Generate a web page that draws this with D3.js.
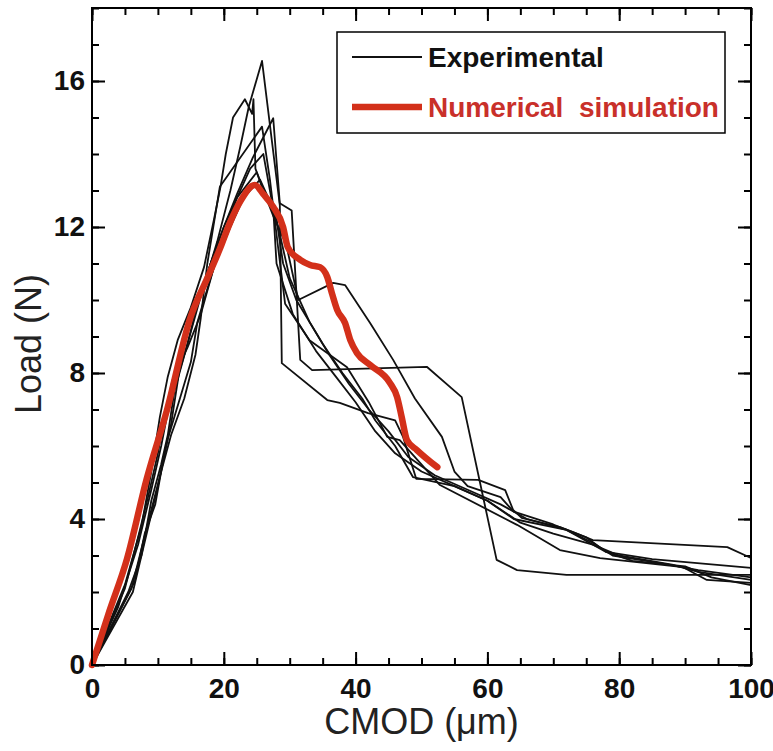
<!DOCTYPE html>
<html>
<head>
<meta charset="utf-8">
<script src="https://cdn.jsdelivr.net/npm/d3@7"></script>
<style>
  body { margin: 0; background: #fff; }
  text { font-family: "Liberation Sans", Arial, Helvetica, sans-serif; }
</style>
</head>
<body>
<div id="chart"></div>
<script>
// experimental curves, [CMOD (um), Load (N)]
var exp1 = [[0,0],[4,1.6],[7,3.3],[9,4.8],[10.5,6.0],[12,7.4],[13.5,8.6],[15,9.5],[17,10.4],[19,11.6],[21,13.0],[22.5,14.2],[23.8,15.3],[25.8,16.55],
  [28.5,12.6],[28.8,8.27],[35.7,7.26],[37.6,7.18],[41.9,6.9],[46,6.7],[47.2,6.25],[49.2,5.1],[58.6,5.07],[62.7,4.79],[63.9,4.25],[65.2,4.03],
  [71,3.78],[73,3.64],[76,3.42],[96.4,3.23],[100,2.93]];
var exp2 = [[0,0],[5,2.2],[7.5,3.8],[9,5.3],[10.3,6.8],[11.5,7.9],[13,8.9],[15,9.8],[17,10.9],[18.5,12.2],[19.5,13.1],[20.3,14.0],[21.4,15.0],
  [23.2,15.5],[24.3,15.1],[24.5,15.5],[24.8,13.6],[25.8,13.1],[27.5,12.3],[29.5,11.5],[31.3,10.0],[36.6,10.47],[38.4,10.41],[42.2,9.37],
  [45.7,8.36],[49,7.3],[53.1,6.25],[55,5.3],[57,4.9],[62,4.6],[64,4.2],[70,3.85],[75,3.5],[78,3.1],[85,2.9],[100,2.66]];
var exp3 = [[0,0],[6.5,2.3],[8,3.6],[9.6,4.4],[11,5.8],[12,6.6],[13.2,8.0],[14.8,9.0],[16.5,10.1],[18,11.0],[20,12.0],[22,12.9],[24.4,13.9],
  [27.5,14.98],[28.5,12.65],[30.3,12.45],[31.6,8.36],[33.4,8.08],[50.8,8.17],[56.1,7.34],[58.9,4.98],[61.4,2.88],[64.5,2.6],[72,2.47],[100,2.47]];
var exp4 = [[0,0],[6,2.1],[8.5,3.9],[10.5,5.3],[12,6.3],[14,7.3],[15.7,8.5],[16.5,9.5],[17.5,11.0],[19.4,13.1],[25.8,14.75],[27,13.3],
  [28.2,11.5],[29.3,9.9],[33,8.9],[38.7,8.16],[42,7.2],[44.8,6.25],[46.7,6.16],[52.8,4.93],[64.5,3.84],[71,3.15],[77.1,2.93],[89.7,2.68],
  [93.3,2.33],[100,2.25]];
var exp5 = [[0,0],[5.5,2.0],[7.5,3.0],[9,4.5],[10.5,5.5],[11.5,6.3],[12.5,7.5],[14.5,8.8],[16,9.9],[18,11.0],[20,12.0],[22,12.8],[25,13.5],
  [26.5,12.8],[28,12.2],[29,11.0],[31,10.0],[35,8.8],[38,8.0],[41,7.3],[43,6.7],[46,6.0],[48.7,5.15],[55,4.9],[60,4.5],[64,4.0],[72,3.7],
  [78,3.1],[82,2.85],[90,2.7],[94,2.4],[100,2.19]];
var exp6 = [[0,0],[5,2.1],[7,3.5],[8.5,4.6],[10,5.8],[11,6.8],[12.2,7.8],[14.5,8.7],[16.5,9.6],[18.5,10.9],[21,12.0],[23,12.8],[25.5,13.3],
  [27.5,12.5],[28,11.0],[30.5,9.6],[34,8.6],[37,7.9],[40,7.2],[43,6.4],[46,5.8],[50,5.3],[55,4.9],[60,4.5],[65,3.9],[70,3.6],[76,3.3],
  [80,3.0],[88,2.75],[92,2.55],[100,2.33]];
var exp7 = [[0,0],[6.2,2.0],[8.3,3.6],[10,4.9],[11.5,6.2],[13.5,7.4],[15,8.3],[16,9.4],[18,10.6],[20,11.8],[22,12.8],[24,13.6],[26,14.0],
  [27.2,12.8],[28.5,11.8],[30,10.6],[33,9.4],[36,8.5],[39,7.7],[42,7.0],[45,6.4],[48,5.7],[52,5.2],[57,4.8],[62,4.4],[66,4.0],[72,3.7],
  [76,3.35],[79,3.0],[86,2.8],[92,2.6],[100,2.4]];
var experiments = [exp1, exp2, exp3, exp4, exp5, exp6, exp7];

// numerical simulation
var simulation = [[0,0],[2.5,1.4],[5.3,2.9],[8.3,5.1],[11.4,7.0],[14.9,9.5],[17.5,10.6],[19.4,11.4],[20.9,12.1],[22.5,12.7],[24.7,13.15],
  [26,12.9],[27.5,12.55],[29,12.0],[29.7,11.45],[31.6,11.1],[33.1,10.96],[34.6,10.9],[35.7,10.63],[36.4,10.19],[37.2,9.73],[38.4,9.37],
  [39.2,8.9],[40.2,8.55],[42.2,8.22],[45.2,7.73],[46.3,7.34],[47,6.79],[47.8,6.16],[49.3,5.89],[52.4,5.42]];

var xTicks = [0, 20, 40, 60, 80, 100];
var yTicks = [0, 4, 8, 12, 16];
var xMinor = d3.range(0, 101, 5);
var yMinor = d3.range(0, 19, 1);
var legendLabels = ['Experimental', 'Numerical  simulation'];

var svgWidth = 773;
var svgHeight = 751;
var margin = {top: 8, right: 22, bottom: 86, left: 92};
var width = svgWidth - margin.left - margin.right;
var height = svgHeight - margin.top - margin.bottom;

var red = '#d3301a';

var svg = d3.select('#chart').append('svg')
    .attr('width', svgWidth)
    .attr('height', svgHeight);

var g = svg.append('g')
    .attr('transform', `translate(${margin.left},${margin.top})`);

var x = d3.scaleLinear().domain([0, 100]).range([0, width]);
var y = d3.scaleLinear().domain([0, 18]).range([height, 0]);

// inward ticks on all four sides
function drawAxis(axis, transform) {
    var a = g.append('g').attr('transform', transform).call(axis);
    a.select('.domain').remove();
    a.selectAll('line').attr('stroke', '#000').attr('stroke-width', 2);
    return a;
}
drawAxis(d3.axisBottom(x).tickValues(xMinor).tickSize(-7).tickFormat(''), `translate(0,${height})`);
drawAxis(d3.axisTop(x).tickValues(xMinor).tickSize(-7).tickFormat(''), 'translate(0,0)');
drawAxis(d3.axisLeft(y).tickValues(yMinor).tickSize(-7).tickFormat(''), 'translate(0,0)');
drawAxis(d3.axisRight(y).tickValues(yMinor).tickSize(-7).tickFormat(''), `translate(${width},0)`);

var xb = drawAxis(d3.axisBottom(x).tickValues(xTicks).tickSize(-13).tickPadding(20), `translate(0,${height})`);
drawAxis(d3.axisTop(x).tickValues(xTicks).tickSize(-13).tickFormat(''), 'translate(0,0)');
var yl = drawAxis(d3.axisLeft(y).tickValues(yTicks).tickSize(-13).tickPadding(21), 'translate(0,0)');
drawAxis(d3.axisRight(y).tickValues(yTicks).tickSize(-13).tickFormat(''), `translate(${width},0)`);

[xb, yl].forEach(function(a) {
    a.selectAll('text')
        .attr('fill', '#111')
        .style('font-size', '28px')
        .style('font-weight', 'bold')
        .style('font-family', '"Liberation Sans", Arial, sans-serif');
});
xb.selectAll('text').attr('dy', '0.71em').attr('y', 13);
yl.selectAll('text').attr('x', -7);

var line = d3.line().x(d => x(d[0])).y(d => y(d[1]));

g.append('g').selectAll('path')
    .data(experiments)
    .enter()
    .append('path')
    .attr('d', line)
    .attr('fill', 'none')
    .attr('stroke', '#111')
    .attr('stroke-width', 1.8)
    .attr('stroke-linejoin', 'round');

g.append('path')
    .datum(simulation)
    .attr('d', line.curve(d3.curveMonotoneX))
    .attr('fill', 'none')
    .attr('stroke', red)
    .attr('stroke-width', 6.5)
    .attr('stroke-linejoin', 'round')
    .attr('stroke-linecap', 'round');

// frame
g.append('rect')
    .attr('width', width)
    .attr('height', height)
    .attr('fill', 'none')
    .attr('stroke', '#000')
    .attr('stroke-width', 2);

// legend
var legend = svg.append('g');
legend.append('rect')
    .attr('x', 337).attr('y', 32)
    .attr('width', 388).attr('height', 101)
    .attr('fill', '#fff')
    .attr('stroke', '#000')
    .attr('stroke-width', 1.5);
var legendItems = legend.selectAll('g.item')
    .data(legendLabels)
    .enter()
    .append('g')
    .attr('transform', (d, i) => `translate(0,${57 + i * 50})`);
legendItems.append('line')
    .attr('x1', 352).attr('x2', 422)
    .attr('stroke', (d, i) => i ? red : '#111')
    .attr('stroke-width', (d, i) => i ? 6.5 : 1.8);
legendItems.append('text')
    .attr('x', 428)
    .attr('dy', '0.36em')
    .style('white-space', 'pre')
    .style('font-size', '28px')
    .style('font-weight', 'bold')
    .attr('fill', (d, i) => i ? '#c9302a' : '#111')
    .text(d => d);

// axis titles
svg.append('text')
    .attr('x', margin.left + width / 2)
    .attr('y', 734)
    .attr('text-anchor', 'middle')
    .style('font-size', '36px')
    .attr('fill', '#222')
    .text('CMOD (\u03bcm)');

svg.append('text')
    .attr('transform', `translate(41,344) rotate(-90)`)
    .attr('text-anchor', 'middle')
    .style('font-size', '36px')
    .attr('fill', '#222')
    .text('Load (N)');
</script>
</body>
</html>
